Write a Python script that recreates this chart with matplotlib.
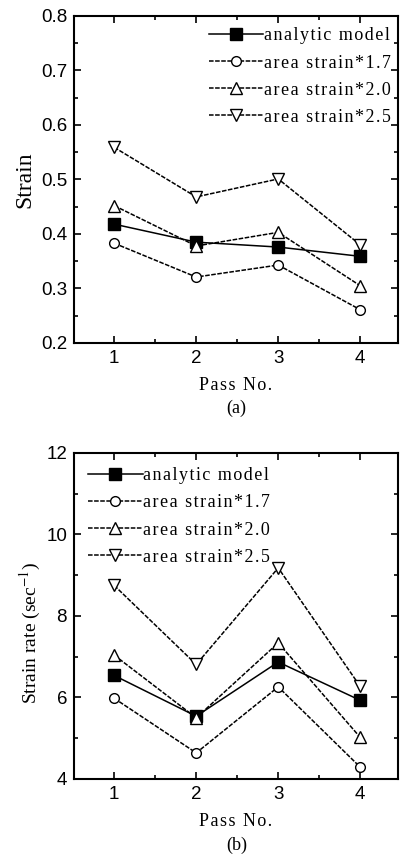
import numpy as np
import matplotlib
matplotlib.use('Agg')
from matplotlib import pyplot as plt
from matplotlib.ticker import MultipleLocator, FormatStrFormatter

passes = [1, 2, 3, 4]
labels = ['analytic model', 'area strain*1.7', 'area strain*2.0', 'area strain*2.5']

strain_model = [0.418, 0.385, 0.376, 0.359]
strain_17 = [0.383, 0.321, 0.343, 0.261]
strain_20 = [0.452, 0.378, 0.403, 0.305]
strain_25 = [0.559, 0.468, 0.501, 0.380]

rate_model = [6.54, 5.54, 6.87, 5.93]
rate_17 = [5.98, 4.64, 6.26, 4.29]
rate_20 = [7.04, 5.50, 7.34, 5.02]
rate_25 = [8.75, 6.81, 9.18, 6.27]

serif = ['Liberation Serif', 'DejaVu Serif']
sans = 'Liberation Sans'
plt.rcParams['mathtext.fontset'] = 'stix'

def spaced(s):
    # fake letter spacing with hair spaces
    return '\u200a'.join(s)

def draw(ax, series, ylim, ystep, yminor, ylabel, ylsize, legend_loc, anchor, yfmt):
    styles = [('s', '-', 'black'), ('o', (0, (3, 1)), 'white'),
              ('^', (0, (3, 1)), 'white'), ('v', (0, (3, 1)), 'white')]
    sizes = [8, 7, 9, 9]
    for vals, lab, (m, ls, fc), ms in zip(series, labels, styles, sizes):
        ax.plot(passes, vals, linestyle=ls, color='black', lw=1.1, marker=m,
                markersize=ms, markerfacecolor=fc, markeredgecolor='black',
                markeredgewidth=1.0, label=spaced(lab))
    ax.set_xlim(0.51, 4.46)
    ax.set_ylim(*ylim)
    ax.xaxis.set_major_locator(MultipleLocator(1))
    ax.xaxis.set_minor_locator(MultipleLocator(0.5))
    ax.yaxis.set_major_locator(MultipleLocator(ystep))
    ax.yaxis.set_minor_locator(MultipleLocator(yminor))
    ax.tick_params(which='both', direction='in', top=True, right=True, width=1.2)
    ax.tick_params(which='major', length=5, pad=5)
    ax.tick_params(which='minor', length=3)
    ax.yaxis.set_major_formatter(yfmt)
    for lab in ax.get_xticklabels() + ax.get_yticklabels():
        lab.set_fontfamily(sans)
        lab.set_fontsize(13.5)
    for s in ax.spines.values():
        s.set_linewidth(1.5)
    ax.set_ylabel(ylabel, fontfamily=serif, fontsize=ylsize)
    ax.set_xlabel(spaced('Pass No.'), fontfamily=serif, fontsize=13, labelpad=7)
    ax.legend(loc=legend_loc, bbox_to_anchor=anchor, frameon=False, handlelength=3.0,
              handletextpad=0.05, labelspacing=0.56, borderaxespad=0.0,
              prop={'family': serif, 'size': 13})

fig = plt.figure(figsize=(4.01, 8.6), dpi=100)
ax1 = fig.add_axes([0.1845, 0.6012, 0.808, 0.3802])
ax2 = fig.add_axes([0.1845, 0.0942, 0.808, 0.3791])

draw(ax1, [strain_model, strain_17, strain_20, strain_25], (0.2, 0.8), 0.1, 0.05,
     'Strain', 17, 'upper right', (1.0, 0.987), FormatStrFormatter('%.1f'))
draw(ax2, [rate_model, rate_17, rate_20, rate_25], (4, 12), 2, 1,
     'Strain rate (sec$^{-1}$)', 14, 'upper left', (0.022, 0.978), FormatStrFormatter('%d'))
ax2.yaxis.set_label_coords(-0.095, 0.448)

fig.text(0.59, 1 - 408 / 860, '(a)', ha='center', va='center', fontfamily=serif, fontsize=13)
fig.text(0.59, 1 - 845 / 860, '(b)', ha='center', va='center', fontfamily=serif, fontsize=13)

fig.savefig('out.png', dpi=100)
